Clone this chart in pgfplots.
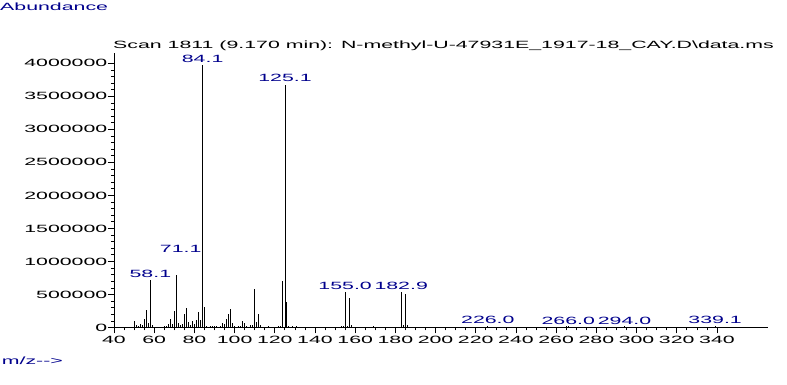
\documentclass[border=0pt]{standalone}
\usepackage{fontspec}
\usepackage{pgfplots}
\pgfplotsset{compat=1.18}
\newfontfamily\widefont[FakeStretch=2.03]{Liberation Sans}
\newcommand\wf{\widefont\fontsize{10.5}{12}\selectfont}
\definecolor{navy}{RGB}{0,0,140}
\begin{document}
\begin{tikzpicture}
\begin{axis}[
  scale only axis,
  width=654pt, height=274.5pt,
  xmin=40, xmax=365.4, ymin=0, ymax=4156000,
  axis x line*=bottom, axis y line*=left,
  axis line style={-, line width=0.8pt},
  tick align=outside,
  major tick length=6pt, minor tick length=3pt,
  tick style={black, line width=0.7pt},
  xtick={40,60,80,100,120,140,160,180,200,220,240,260,280,300,320,340},
  xticklabels={40,60,80,100,120,140,160,180,200,220,240,260,280,300,320,340},
  ytick={0,500000,1000000,1500000,2000000,2500000,3000000,3500000,4000000},
  yticklabels={0,500000,1000000,1500000,2000000,2500000,3000000,3500000,4000000},
  minor x tick num=3, minor y tick num=4,
  scaled y ticks=false,
  /pgf/number format/assume math mode=true,
  ticklabel style={font=\wf, inner sep=0pt},
  xticklabel style={yshift=-2pt},
  yticklabel style={xshift=-0.5pt},
  clip=false,
]
\addplot[ycomb, black, line width=0.8pt, mark=none] coordinates {
(50,100000) (51,40000) (52,20000) (53,60000) (54,45000) (55,130000) (56,270000) (57,75000) (58.1,720000) (59,45000)
(65,20000) (66,25000) (67,60000) (68,130000) (69,55000) (70,250000) (71.1,790000) (72,70000) (73,40000) (74,60000)
(75,200000) (76,290000) (77,90000) (78,40000) (79,100000) (80,50000) (81,110000) (82,230000) (83,110000) (84.1,3980000)
(85,310000) (86,30000) (88,20000) (89,20000) (90,20000) (91,20000) (93,20000) (94,70000) (95,55000) (96,130000)
(97,210000) (98,280000) (99,70000) (100,20000) (102,20000) (103,20000) (104,100000) (105,70000) (106,20000) (108,40000)
(109,40000) (110,580000) (111,90000) (112,210000) (113,40000) (117,20000) (122,20000) (123,20000) (124,700000) (125.1,3670000)
(126,380000) (127,30000) (129,20000) (131,20000) (133,15000) (139,15000) (153,25000) (154,20000) (155.0,545000) (156,30000)
(157,450000) (158,40000) (169,25000) (171,15000) (182.9,545000) (184,40000) (185,510000) (186,40000) (196,15000) (213,15000)
(226.0,20000) (264,15000) (265,20000) (266.0,20000) (267,15000) (293,15000) (294.0,20000) (338,15000) (339.1,25000)
};
\begin{scope}[every node/.style={font=\wf, text=navy, inner sep=0pt, anchor=base}]
\node at (axis cs:84.1,4010000) {84.1};
\node at (axis cs:125.1,3720000) {125.1};
\node at (axis cs:58.1,750000) {58.1};
\node at (axis cs:73.2,1140000) {71.1};
\node at (axis cs:155.0,575000) {155.0};
\node at (axis cs:182.9,575000) {182.9};
\node at (axis cs:226.0,55000) {226.0};
\node at (axis cs:266.0,50000) {266.0};
\node at (axis cs:294.0,50000) {294.0};
\node at (axis cs:339.1,60000) {339.1};
\end{scope}
\coordinate (O) at (rel axis cs:0,0);
\coordinate (T) at (rel axis cs:1,1);
\node[font=\wf, anchor=base west, inner sep=0pt] at ([xshift=-1pt,yshift=4.3pt]rel axis cs:0,1) {Scan 1811 (9.170 min): N-methyl-U-47931E\_1917-18\_CAY.D\textbackslash data.ms};
\end{axis}
\node[font=\wf, text=navy, anchor=base west, inner sep=0pt] at ([xshift=-114pt,yshift=42pt]O |- T) {Abundance};
\node[font=\wf, text=navy, anchor=base west, inner sep=0pt] at ([xshift=-112.3pt,yshift=-37.5pt]O) {m/z-->};
\path ([xshift=-114pt,yshift=-57.5pt]O) ([xshift=19pt,yshift=53pt]T);
\end{tikzpicture}
\end{document}
